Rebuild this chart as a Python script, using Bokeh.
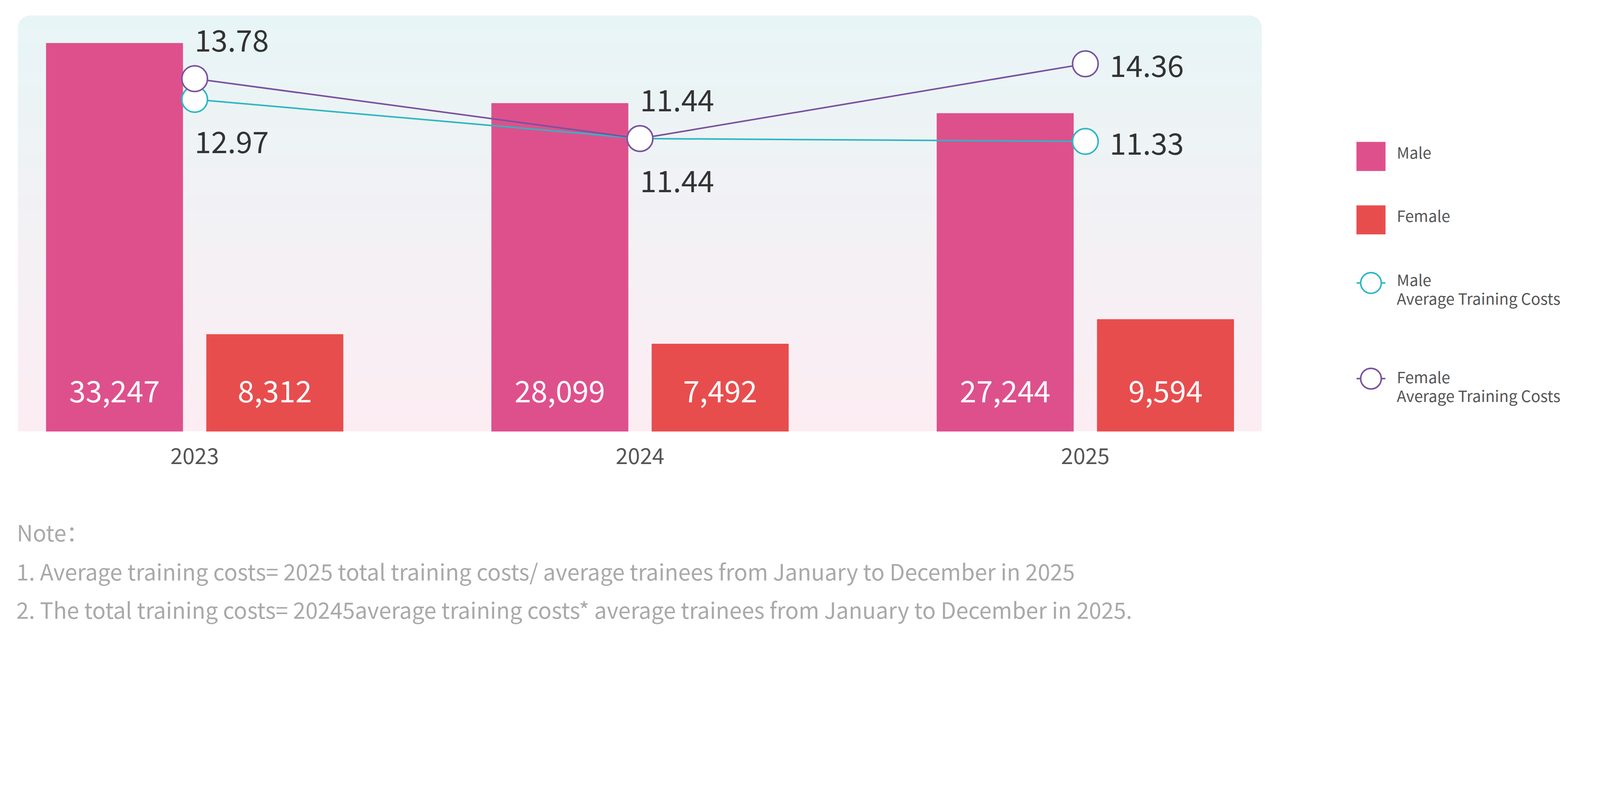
from bokeh.plotting import figure
from bokeh.models import Range1d, FixedTicker, BoxAnnotation
from bokeh.layouts import column, row
from bokeh.core.properties import value
from bokeh.embed import file_html
from bokeh.resources import INLINE

# ---------------- data ----------------
years = ["2023", "2024", "2025"]
male_trainees = [33247, 28099, 27244]
female_trainees = [8312, 7492, 9594]
male_avg_cost = [12.97, 11.44, 11.33]
female_avg_cost = [13.78, 11.44, 14.36]

legend_labels = ["Male", "Female", "Male\nAverage Training Costs", "Female\nAverage Training Costs"]
notes = [
    "Note\uff1a",
    "1.  Average training costs= 2025 total training costs/ average trainees from January to December in 2025",
    "2.  The total training costs= 20245average training costs* average trainees from January to December in 2025.",
]

# ---------------- styles ----------------
S = 0.8      # css px per picture px
SH = 0.28    # baseline correction (em)
FONT = value("Noto Sans CJK SC")
MALE_C = "#de508c"
FEMALE_C = "#e84d4e"
TEAL = "#2db7c3"
PURPLE = "#7a52a0"
VAL_C = "#333333"

VAL_F = 95   # picture px
LEG_F = 50
NOTE_F = 71
AX_F = 70

def px(v):
    return f"{round(v * S)}px"

idx = list(range(len(years)))
off = 0.18
bw = 0.3067

# ---------------- main chart ----------------
p = figure(width=3272, height=1240, output_backend="svg", toolbar_location=None,
           title=None, x_range=Range1d(-0.3972, 2.3965), y_range=Range1d(0, 35630),
           y_axis_location=None, min_border_left=45, min_border_right=42,
           min_border_top=39, min_border_bottom=136)
p.extra_y_ranges = {"avg": Range1d(0, 16.25)}
p.xgrid.visible = False
p.ygrid.visible = False
p.outline_line_color = None
p.background_fill_color = "white"
p.border_fill_color = "white"

# gradient card background
N = 30
top_c = (232, 245, 246)
bot_c = (252, 237, 243)
ymax = 35630.0
for k in range(N):
    t = k / (N - 1)
    c = tuple(int(round(a + (b - a) * t)) for a, b in zip(top_c, bot_c))
    col = "#%02x%02x%02x" % c
    top = ymax * (1 - k / N)
    bottom = max(0.0, ymax * (1 - (k + 1) / N) - 30)
    br = (32, 32, 0, 0) if k == 0 else 0
    p.add_layout(BoxAnnotation(top=top, bottom=bottom, fill_color=col, fill_alpha=1.0,
                               line_color=None, level="underlay", border_radius=br))

male_x = [i - off for i in idx]
female_x = [i + off for i in idx]
p.vbar(x=male_x, top=male_trainees, bottom=0, width=bw, color=MALE_C)
p.vbar(x=female_x, top=female_trainees, bottom=0, width=bw, color=FEMALE_C)

val_shift = -SH * VAL_F * S
for xs, vals in ((male_x, male_trainees), (female_x, female_trainees)):
    p.text(x=xs, y=[0] * len(idx), text=[f"{v:,}" for v in vals],
           text_align="center", text_baseline="alphabetic", y_offset=-102 * S + val_shift,
           text_color="white", text_font_size=px(VAL_F), text_font=FONT)

# average cost lines
p.line(x=idx, y=male_avg_cost, y_range_name="avg", line_color=TEAL, line_width=5 * S)
p.scatter(x=idx, y=male_avg_cost, y_range_name="avg", marker="circle", size=82 * S,
          fill_color="white", line_color=TEAL, line_width=5 * S)
p.line(x=idx, y=female_avg_cost, y_range_name="avg", line_color=PURPLE, line_width=5 * S)
p.scatter(x=idx, y=female_avg_cost, y_range_name="avg", marker="circle", size=82 * S,
          fill_color="white", line_color=PURPLE, line_width=5 * S)

last = len(idx) - 1
fx_off = [(78 if i == last else 0) * S for i in idx]
f_y_off = [(34 if i == last else -95) * S + val_shift for i in idx]
m_y_off = [(34 if i == last else 163) * S + val_shift for i in idx]
p.text(x=idx, y=female_avg_cost, y_range_name="avg", text=[f"{v:.2f}" for v in female_avg_cost],
       x_offset=fx_off, y_offset=f_y_off, text_align="left", text_baseline="alphabetic",
       text_color=VAL_C, text_font_size=px(VAL_F), text_font=FONT)
p.text(x=idx, y=male_avg_cost, y_range_name="avg", text=[f"{v:.2f}" for v in male_avg_cost],
       x_offset=fx_off, y_offset=m_y_off, text_align="left", text_baseline="alphabetic",
       text_color=VAL_C, text_font_size=px(VAL_F), text_font=FONT)

p.xaxis.ticker = FixedTicker(ticks=idx)
p.xaxis.major_label_overrides = {i: y for i, y in zip(idx, years)}
p.xaxis.axis_line_color = None
p.xaxis.major_tick_line_color = None
p.xaxis.minor_tick_line_color = None
p.xaxis.major_tick_out = 0
p.xaxis.major_tick_in = 0
p.xaxis.major_label_standoff = 42
p.xaxis.major_label_text_font = "Noto Sans CJK SC"
p.xaxis.major_label_text_font_size = px(AX_F)
p.xaxis.major_label_text_color = "#555555"

# ---------------- legend panel (coordinates in picture pixels) ----------------
lg = figure(width=819, height=1240, output_backend="svg", toolbar_location=None, title=None,
            x_range=Range1d(4100, 5123.75), y_range=Range1d(1390, 58.75),
            x_axis_location=None, y_axis_location=None,
            min_border_left=0, min_border_right=0, min_border_top=39, min_border_bottom=136)
lg.xgrid.visible = False
lg.ygrid.visible = False
lg.outline_line_color = None
lg.background_fill_color = "white"
lg.border_fill_color = "white"

sq_x = 4396.5
item_y = [510, 713, 915, 1221]
lg.rect(x=[sq_x, sq_x], y=item_y[:2], width=93, height=93, fill_color=[MALE_C, FEMALE_C], line_color=None)
for yy, cc in zip(item_y[2:], [TEAL, PURPLE]):
    lg.line(x=[sq_x - 46, sq_x + 46], y=[yy, yy], line_color=cc, line_width=5 * S)
    lg.scatter(x=[sq_x], y=[yy], marker="circle", size=66 * S, fill_color="white",
               line_color=cc, line_width=5 * S)

tx = 4479
leg_shift = SH * LEG_F
line1_y = [510, 712, 917, 1228]
texts1, ys1, texts2, ys2 = [], [], [], []
for lab, yy in zip(legend_labels, line1_y):
    parts = lab.split("\n")
    texts1.append(parts[0]); ys1.append(yy - leg_shift)
    if len(parts) > 1:
        texts2.append(parts[1]); ys2.append(yy + 60 - leg_shift)
lg.text(x=[tx] * len(texts1), y=ys1, text=texts1, text_align="left", text_baseline="alphabetic",
        text_color="#555555", text_font_size=px(LEG_F), text_font=FONT)
lg.text(x=[tx] * len(texts2), y=ys2, text=texts2, text_align="left", text_baseline="alphabetic",
        text_color="#555555", text_font_size=px(LEG_F), text_font=FONT)

# ---------------- notes panel ----------------
nt = figure(width=4091, height=382, output_backend="svg", toolbar_location=None, title=None,
            x_range=Range1d(10, 5123.75), y_range=Range1d(2037.5, 1560),
            x_axis_location=None, y_axis_location=None,
            min_border=0, min_border_left=0, min_border_right=0, min_border_top=0, min_border_bottom=0)
nt.xgrid.visible = False
nt.ygrid.visible = False
nt.outline_line_color = None
nt.background_fill_color = "white"
nt.border_fill_color = "white"
note_shift = SH * NOTE_F
nt.text(x=[63, 62, 62], y=[1730 - note_shift, 1855 - note_shift, 1978 - note_shift], text=notes,
        text_align="left", text_baseline="alphabetic", text_color="#a9a9a9",
        text_font_size=px(NOTE_F), text_font=FONT)

layout = column(row(p, lg), nt)
open("out.html", "w").write(file_html(layout, INLINE))
